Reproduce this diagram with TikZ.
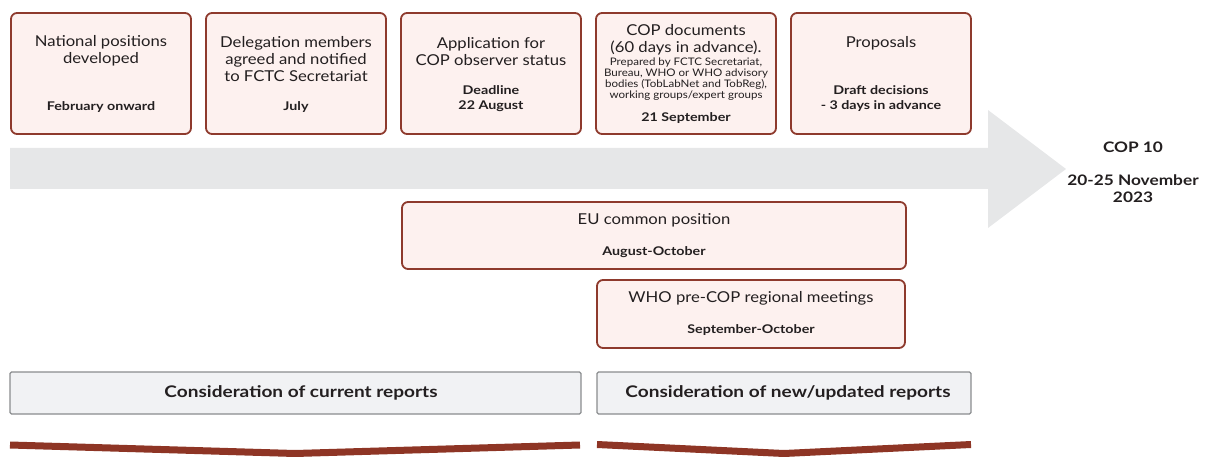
\documentclass[tikz,border=0pt]{standalone}
\usepackage{fontspec}
\setmainfont{Lato}[FakeStretch=1.11]
\newfontfamily\boldwide{Lato}[FakeStretch=1.19]
\definecolor{boxfill}{HTML}{FDF1EF}
\definecolor{boxline}{HTML}{8E3A2D}
\definecolor{arrowgray}{HTML}{E6E7E8}
\definecolor{barfill}{HTML}{F1F2F4}
\definecolor{barline}{HTML}{8A8C8E}
\definecolor{band}{HTML}{8E3525}
\definecolor{txt}{HTML}{231F20}
\tikzset{
  stagebox/.style={draw=boxline, fill=boxfill, line width=1.8pt, rounded corners=6pt},
  titletext/.style={text=txt, align=center, font=\fontsize{15}{17}\selectfont, inner sep=0pt},
  datetext/.style={text=txt, align=center, font=\boldwide\bfseries\fontsize{12}{15}\selectfont, inner sep=0pt},
  smalltext/.style={text=txt, align=center, font=\fontsize{10.4}{11}\selectfont, inner sep=0pt},
  reportbar/.style={draw=barline, fill=barfill, line width=1.3pt, rounded corners=1.5pt},
  bartext/.style={text=txt, font=\boldwide\bfseries\fontsize{16}{19}\selectfont, inner sep=0pt},
  coptext/.style={text=txt, align=center, font=\boldwide\bfseries\fontsize{14.5}{17}\selectfont, inner sep=0pt},
  bandline/.style={draw=band, line width=7pt, line join=miter},
}
\begin{document}
\begin{tikzpicture}[x=1pt,y=-1pt]
\useasboundingbox (0,0) rectangle (1205,457);
% big arrow
\fill[arrowgray] (10,148) -- (988,148) -- (988,110) -- (1066,169) -- (988,228) -- (988,189) -- (10,189) -- cycle;
% top boxes
\draw[stagebox] (11,13) rectangle (191,134);
\draw[stagebox] (206,13) rectangle (386,134);
\draw[stagebox] (401,13) rectangle (581,134);
\draw[stagebox] (596,13) rectangle (776,134);
\draw[stagebox] (791,13) rectangle (971,134);
\node[titletext] (t1) at (101,50.5) {National positions\\developed};
\node[datetext] (d1) at (101,107.5) {February onward};
\node[titletext] (t2) at (296,59) {Delegation members\\agreed and notified\\to FCTC Secretariat};
\node[datetext] (d2) at (296,107.5) {July};
\node[titletext] (t3) at (491,51.5) {Application for\\COP observer status};
\node[datetext] (d3) at (491,99) {Deadline\\22 August};
\node[titletext] (t4) at (686,39.5) {COP documents\\(60 days in advance).};
\node[smalltext] (s4) at (686,79.5) {Prepared by FCTC Secretariat,\\Bureau, WHO or WHO advisory\\bodies (TobLabNet and TobReg),\\working groups/expert groups};
\node[datetext] (d4) at (686,118.5) {21 September};
\node[titletext] (t5) at (881,43) {Proposals};
\node[datetext] (d5) at (881,99) {Draft decisions\\- 3 days in advance};
% COP label
\node[coptext] (cop) at (1133,147) {COP 10};
\node[coptext] (copdate) at (1133,188.5) {20-25 November\\2023};
% middle boxes
\draw[stagebox] (402,202) rectangle (906,269);
\node[titletext] (eu) at (654,220) {EU common position};
\node[datetext] (eud) at (654,252.5) {August-October};
\draw[stagebox] (597,280) rectangle (905,348);
\node[titletext] (who) at (751,298) {WHO pre-COP regional meetings};
\node[datetext] (whod) at (751,330.5) {September-October};
% report bars
\draw[reportbar] (10,372) rectangle (581,414);
\node[bartext] (r1) at (301,393) {Consideration of current reports};
\draw[reportbar] (597,372) rectangle (971,414);
\node[bartext] (r2) at (788,393) {Consideration of new/updated reports};
% bands
\draw[bandline] (10,445) -- (295,453.5) -- (580,445);
\draw[bandline] (597,444.5) -- (784,453.5) -- (971,444.5);
\end{tikzpicture}
\end{document}
